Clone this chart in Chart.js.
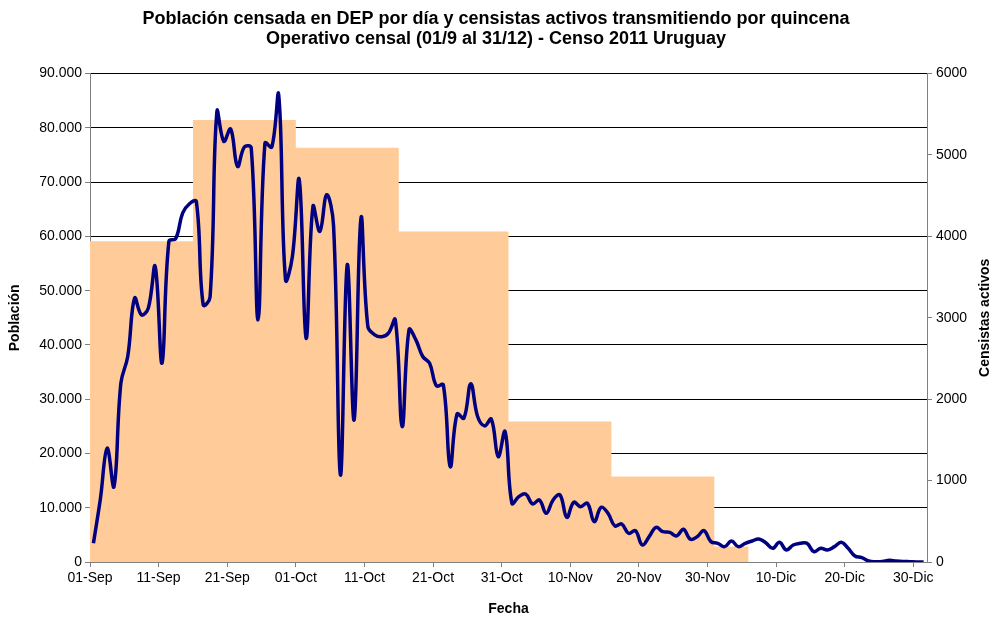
<!DOCTYPE html>
<html>
<head>
<meta charset="utf-8">
<script src="https://cdn.jsdelivr.net/npm/chart.js@4/dist/chart.umd.min.js"></script>
<style>
html,body{margin:0;padding:0;background:#fff;}
#wrap{width:992px;height:618px;}
</style>
</head>
<body>
<div id="wrap"><canvas id="c" width="992" height="618"></canvas></div>
<script>
// Tick labels of the date axis (every 10 days from 01-Sep)
const tickLabels = ['01-Sep','11-Sep','21-Sep','01-Oct','11-Oct','21-Oct','31-Oct','10-Nov','20-Nov','30-Nov','10-Dic','20-Dic','30-Dic'];
const tickDays = [0,10,20,30,40,50,60,70,80,90,100,110,120];
const totalDays = 122; // 01-Sep .. 31-Dic

// Población censada por día (01-Sep ... 31-Dic)
const poblacion = [
  3450, 11500, 20970, 13900, 32950, 37870, 48630, 45550, 46780, 54460,
  36640, 59070, 59600, 64300, 66020, 66450, 47400, 48800, 83050, 77520,
  79800, 72900, 76470, 76300, 44630, 77200, 76470, 86130, 52000, 56300,
  70450, 41250, 65530, 60920, 67680, 62000, 16040, 54770, 26190, 63380,
  43400, 41860, 41500, 42170, 44630, 24960, 42790, 40940, 37870, 36640,
  32460, 32640, 17580, 27290, 26500, 32830, 26800, 25080, 26310, 19420,
  24030, 10820, 12040, 12540, 10700, 11430, 8980, 11430, 12360, 8240,
  11000, 10200, 10820, 7440, 10080, 8980, 6640, 7010, 5290, 5780,
  3140, 4670, 6390, 5590, 5470, 4800, 6030, 4180, 4670, 5780,
  3750, 3440, 2830, 3870, 2830, 3440, 3870, 4240, 3560, 2520,
  3630, 2210, 3140, 3440, 3440, 1900, 2520, 2210, 2830, 3630,
  2520, 1110, 800, 180, 60, 100, 300, 180, 100, 60,
  20, 20
];

// Censistas activos por quincena
const quincenaInicio = [0, 15, 30, 45, 61, 76, 91]; // day index of start
const quincenaFin = 96;
const censistas = [3940, 5430, 5090, 4060, 1725, 1050, 190];

const popData = poblacion.map((v, i) => ({x: i + 0.5, y: v}));
const censData = quincenaInicio.map((d, i) => ({x: d, y: censistas[i]})).concat([{x: quincenaFin, y: 0}]);

const FONT = 'Liberation Sans, Arial, sans-serif';
const fmtMiles = v => v === 0 ? '0' : String(v).replace(/\B(?=(\d{3})+(?!\d))/g, '.');

const rightTitle = {
  id: 'rightTitle',
  afterDraw(chart) {
    const c = chart.ctx;
    c.save();
    c.translate(985, (chart.chartArea.top + chart.chartArea.bottom) / 2);
    c.rotate(-Math.PI / 2);
    c.font = 'bold 14px ' + FONT;
    c.fillStyle = '#000';
    c.textAlign = 'center';
    c.textBaseline = 'middle';
    c.fillText('Censistas activos', 0, 0);
    c.restore();
  }
};

new Chart(document.getElementById('c'), {
  type: 'line',
  data: {
    datasets: [
      {
        label: 'Población',
        data: popData,
        yAxisID: 'y',
        borderColor: '#000080',
        borderWidth: 3.5,
        pointRadius: 0,
        tension: 0.4,
        fill: false,
        order: 0
      },
      {
        label: 'Censistas activos',
        data: censData,
        yAxisID: 'y1',
        stepped: true,
        borderWidth: 0,
        borderColor: 'rgba(0,0,0,0)',
        backgroundColor: '#FFCC99',
        fill: 'origin',
        pointRadius: 0,
        order: 1
      }
    ]
  },
  options: {
    responsive: false,
    animation: false,
    devicePixelRatio: 1,
    layout: {padding: 0},
    plugins: {
      legend: {display: false},
      tooltip: {enabled: false},
      title: {
        display: true,
        text: ['Población censada en DEP por día y censistas activos transmitiendo por quincena',
               'Operativo censal (01/9 al 31/12) - Censo 2011 Uruguay'],
        color: '#000',
        font: {family: FONT, size: 18, weight: 'bold', lineHeight: 1.1},
        padding: {top: 9, bottom: 25}
      }
    },
    scales: {
      x: {
        type: 'linear',
        min: 0,
        max: totalDays,
        afterBuildTicks: s => { s.ticks = tickDays.map(v => ({value: v})); },
        afterFit: s => { s.height = 56; },
        ticks: {
          callback: (v, i) => tickLabels[i],
          autoSkip: false,
          maxRotation: 0,
          color: '#000',
          font: {family: FONT, size: 14},
          padding: 3
        },
        grid: {drawOnChartArea: false, drawTicks: true, tickLength: 5, color: '#808080'},
        border: {color: '#808080'},
        title: {display: true, text: 'Fecha', color: '#000', font: {family: FONT, size: 14, weight: 'bold'}, padding: {top: 4, bottom: 0}}
      },
      y: {
        position: 'left',
        min: 0,
        max: 90000,
        afterFit: s => { s.width = 90; },
        ticks: {stepSize: 10000, callback: v => fmtMiles(v), color: '#000', font: {family: FONT, size: 14}, padding: 3},
        grid: {color: '#000', tickColor: '#808080', tickLength: 5},
        border: {color: '#808080'},
        title: {display: true, text: 'Población', color: '#000', font: {family: FONT, size: 14, weight: 'bold'}, padding: {top: 7, bottom: 0}}
      },
      y1: {
        position: 'right',
        min: 0,
        max: 6000,
        afterFit: s => { s.width = 65; },
        ticks: {stepSize: 1000, callback: v => String(v), color: '#000', font: {family: FONT, size: 14}, padding: 4},
        grid: {drawOnChartArea: false, tickLength: 5, color: '#808080'},
        border: {color: '#808080'}
      }
    }
  },
  plugins: [rightTitle]
});
</script>
</body>
</html>
